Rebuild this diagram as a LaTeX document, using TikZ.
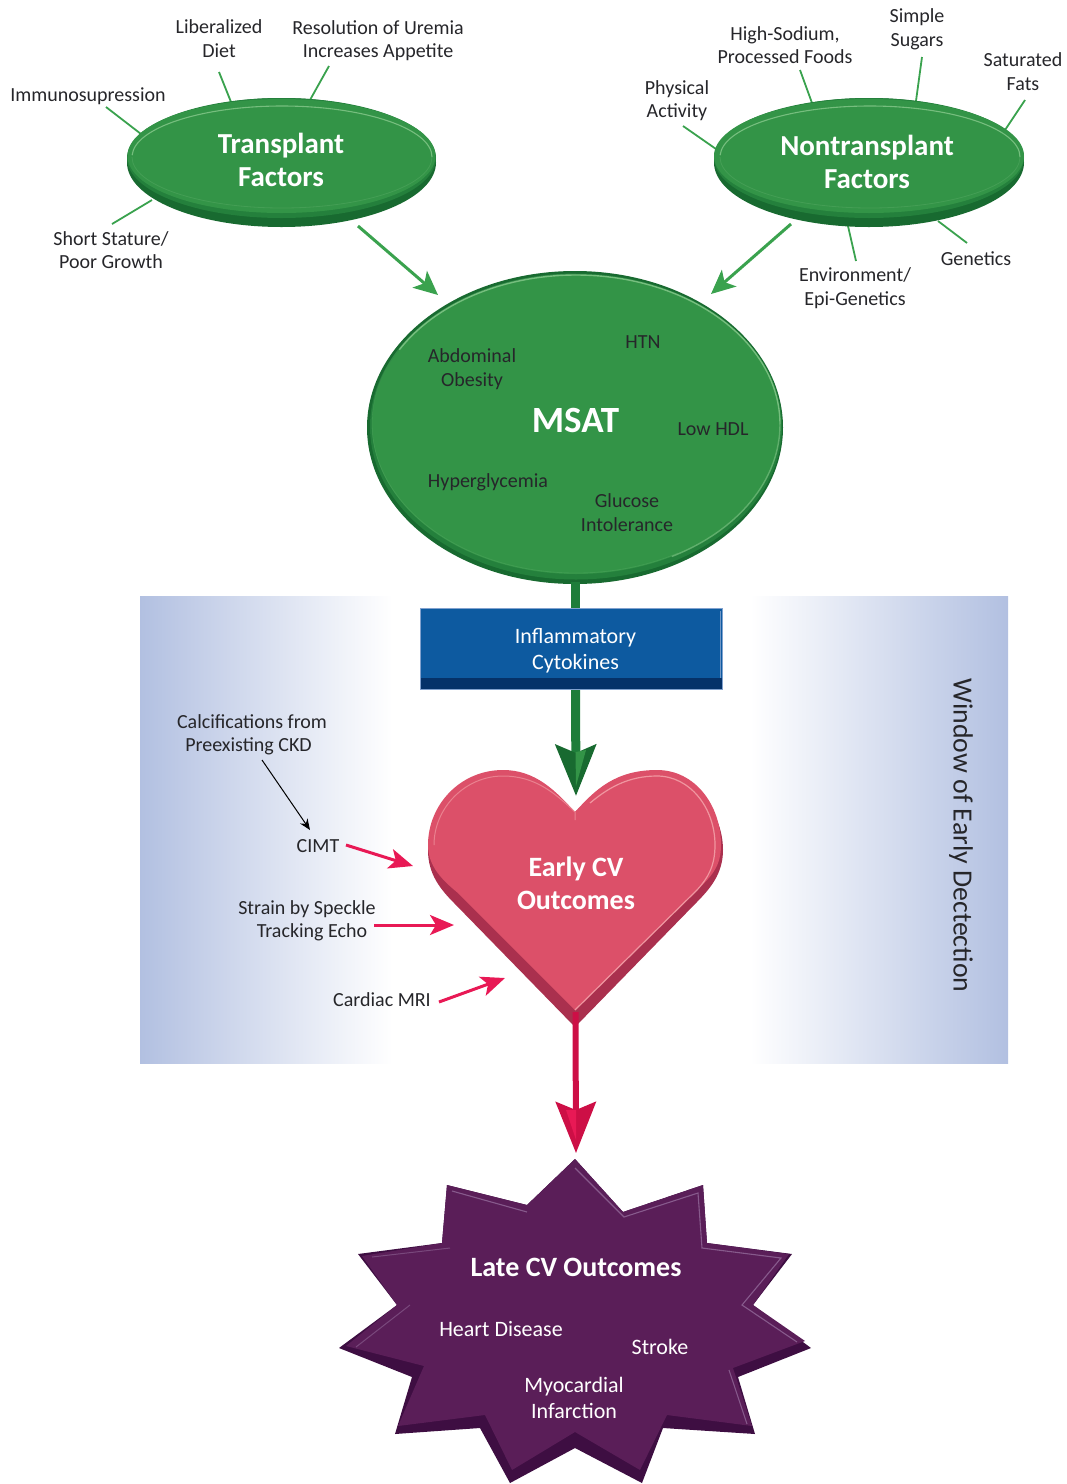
\documentclass[tikz,border=0pt]{standalone}
\usepackage{fontspec}
\setmainfont{Carlito}
\usetikzlibrary{shapes.geometric,arrows.meta}
\definecolor{leaf}{RGB}{51,148,71}
\definecolor{leafdark}{RGB}{24,106,48}
\definecolor{leafmid}{RGB}{36,128,60}
\definecolor{leaflight}{RGB}{118,190,126}
\definecolor{feedgreen}{RGB}{58,162,78}
\definecolor{stemgreen}{RGB}{30,125,58}
\definecolor{ink}{RGB}{38,38,42}
\definecolor{winblue}{RGB}{178,192,225}
\definecolor{boxblue}{RGB}{13,90,160}
\definecolor{boxdark}{RGB}{5,50,105}
\definecolor{heartface}{RGB}{220,80,105}
\definecolor{heartrim}{RGB}{170,48,78}
\definecolor{heartlight}{RGB}{240,150,160}
\definecolor{crimson}{RGB}{205,15,70}
\definecolor{arrowred}{RGB}{232,25,85}
\definecolor{starface}{RGB}{90,30,88}
\definecolor{starrim}{RGB}{62,14,66}
\definecolor{starlight}{RGB}{135,90,140}
\tikzset{
  lbl/.style={inner sep=0pt,align=center,text=ink,font=\fontsize{20}{23.5}\selectfont},
  whitelbl/.style={lbl,text=white,font=\fontsize{22}{26}\selectfont},
  head/.style={inner sep=0pt,align=center,text=white,font=\bfseries\fontsize{29}{33}\selectfont},
  headtight/.style={head,font=\bfseries\fontsize{28}{33}\selectfont},
  disc/.style={ellipse,inner sep=0pt,fill=leaf,minimum width=308pt,minimum height=114pt},
  spoke/.style={draw=feedgreen,line width=1.8pt},
  feed/.style={draw=feedgreen,line width=3pt,-{Stealth[length=24pt,width=22pt,inset=6pt]},fill=feedgreen},
  redin/.style={draw=arrowred,line width=3pt,-{Stealth[length=24pt,width=20pt,inset=6pt]},fill=arrowred},
  stem/.style={draw=stemgreen,line width=9pt},
  ringtop/.style={draw=leaflight,line width=1.1pt},
  ringlow/.style={draw=leaflight,line width=.8pt,opacity=.25},
}
\begin{document}
\begin{tikzpicture}[x=1pt,y=-1pt]
\useasboundingbox (0,0) rectangle (1067,1484);
% window
\fill[left color=winblue,right color=white] (140,596) rectangle (392,1063);
\fill[left color=white,right color=winblue] (750,596) rectangle (1008,1063);
% coordinates for connector ends
\coordinate (a1) at (219,72); \coordinate (a1b) at (231,102);
\coordinate (a2) at (329,66); \coordinate (a2b) at (310,100);
\coordinate (a3) at (106,107); \coordinate (a3b) at (141,134);
\coordinate (a4) at (112,224); \coordinate (a4b) at (152,200);
\coordinate (b1) at (800,70); \coordinate (b1b) at (812,103);
\coordinate (b2) at (922,57); \coordinate (b2b) at (916,101);
\coordinate (b3) at (1025,100); \coordinate (b3b) at (1005,130);
\coordinate (b4) at (683,126); \coordinate (b4b) at (716,149);
\coordinate (b5) at (967,243); \coordinate (b5b) at (938,221);
\coordinate (b6) at (856,261); \coordinate (b6b) at (848,226);
\draw[spoke] (a1)--(a1b); \draw[spoke] (a2)--(a2b); \draw[spoke] (a3)--(a3b); \draw[spoke] (a4)--(a4b);
\draw[spoke] (b1)--(b1b); \draw[spoke] (b2)--(b2b); \draw[spoke] (b3)--(b3b);
\draw[spoke] (b4)--(b4b); \draw[spoke] (b5)--(b5b); \draw[spoke] (b6)--(b6b);
% Transplant disc
\fill[leafdark] (281.5,162.5) ellipse [x radius=154.5pt,y radius=64.5pt];
\fill[leafmid] (281.5,158) ellipse [x radius=154.5pt,y radius=60pt];
\node[disc] (tf) at (281.5,156) {};
\draw[ringtop] (432,157) arc[start angle=0,end angle=178,x radius=150pt,y radius=51pt];
\draw[ringlow] (432,157) arc[start angle=0,end angle=-180,x radius=150pt,y radius=51pt];
\node[head] (tflabel) at (281,159.5) {Transplant\\Factors};
% Nontransplant disc
\fill[leafdark] (869,162.5) ellipse [x radius=155pt,y radius=64.5pt];
\fill[leafmid] (869,158) ellipse [x radius=155pt,y radius=60pt];
\node[disc,minimum width=310pt] (nf) at (869,156) {};
\draw[ringtop] (1020,157) arc[start angle=0,end angle=178,x radius=150pt,y radius=51pt];
\draw[ringlow] (1020,157) arc[start angle=0,end angle=-180,x radius=150pt,y radius=51pt];
\node[head] (nflabel) at (867,161.5) {Nontransplant\\Factors};
% MSAT
\node[ellipse,inner sep=0pt,fill=leafdark,minimum width=416pt,minimum height=313pt] (msatrim) at (575,427.5) {};
\node[ellipse,inner sep=0pt,fill=leafmid,minimum width=412pt,minimum height=306pt] (msatmid) at (576,426.5) {};
\node[ellipse,inner sep=0pt,fill=leaf,minimum width=408pt,minimum height=299pt] (msat) at (576,424.5) {};
\draw[leaflight,line width=1.4pt] (780,424.5) arc[start angle=0,end angle=150,x radius=204pt,y radius=149.5pt];
\draw[leaflight,line width=1.4pt,opacity=.7] (780,424.5) arc[start angle=0,end angle=-62,x radius=204pt,y radius=149.5pt];
\draw[leaflight,line width=.8pt,opacity=.2] (576,274) arc[start angle=90,end angle=300,x radius=204pt,y radius=149.5pt];
\node[inner sep=0pt,text=white,font=\bfseries\fontsize{37}{40}\selectfont] (msatlabel) at (575.5,420) {MSAT};
% stems and box
\node[inner sep=0pt,fill=boxblue,minimum width=302pt,minimum height=81pt,anchor=north west] (cyt) at (420,608) {};
\coordinate (tipg) at (576,796);
\coordinate (msatfoot) at (575.5,582);
\coordinate (cyttop) at (575.5,608);
\coordinate (cytfoot) at (575.5,689);
\draw[stem] (msatfoot) -- (cyttop);
\draw[draw=stemgreen,line width=9pt,-{Stealth[length=51pt,width=40pt,inset=8pt,color=leafdark]}] (cytfoot) -- (tipg);
\fill[leaf] (575.5,752) -- (586,750) -- (576,786) -- cycle;
\fill[boxdark] (420,678) rectangle (722,689);
\draw[winblue!70!boxblue,line width=1pt] (420,689) -- (420,608) -- (722,608) -- (722,689) -- cycle;
\draw[winblue!60!boxblue,line width=1pt] (720,611) -- (720,678);
\node[whitelbl] (cytlabel) at (575.5,651) {Inflammatory\\Cytokines};
% heart
\fill[heartrim] (575,812) .. controls (555,794) and (535,776) .. (503,776) .. controls (460,776) and (428,809) .. (428,850) .. controls (428,874) and (440,889) .. (455,904) -- (575,1027) -- (695,904) .. controls (710,889) and (723,874) .. (723,850) .. controls (723,809) and (690,776) .. (657,776) .. controls (615,776) and (595,794) .. (575,812) -- cycle;
\fill[heartface] (575,812) .. controls (555,790) and (535,770) .. (503,770) .. controls (460,770) and (428,805) .. (428,845) .. controls (428,866) and (442,880) .. (458,893) -- (575,1010) -- (697,890) .. controls (712,876) and (721,866) .. (721,845) .. controls (721,805) and (695,770) .. (657,770) .. controls (615,770) and (595,790) .. (575,812) -- cycle;
\draw[heartlight,line width=1.2pt] (575,1010) -- (697,890) .. controls (708,878) and (715,866) .. (715,845) .. controls (715,808) and (690,776) .. (657,776) .. controls (628,776) and (608,788) .. (590,803);
\draw[heartlight,line width=1pt,opacity=.7] (575,820) -- (575,812) .. controls (555,793) and (535,776) .. (503,776) .. controls (465,776) and (434,808) .. (434,845);
\node[headtight] (early) at (576,883.5) {Early CV\\Outcomes};
% star
\fill[starrim] (575,1159) -- (623,1212) -- (703,1185) -- (707,1243) -- (792,1254) -- (753,1305) -- (811,1348) -- (738,1377) -- (755,1434) -- (663,1428) -- (642,1483) -- (575,1448) -- (510,1483) -- (480,1428) -- (395,1434) -- (412,1377) -- (339,1348) -- (397,1305) -- (358,1254) -- (442,1243) -- (447,1185) -- (527,1205) -- cycle;
\fill[starface] (575,1159) -- (623,1212) -- (703,1185) -- (707,1243) -- (789,1254) -- (753,1305) -- (805,1341) -- (733,1368) -- (752,1426) -- (667,1415) -- (640,1470) -- (575,1432) -- (512,1470) -- (485,1415) -- (398,1426) -- (424,1366) -- (346,1346) -- (397,1305) -- (362,1256) -- (442,1243) -- (447,1185) -- (527,1205) -- cycle;
\draw[starlight,line width=1.1pt] (575,1168) -- (624,1217) -- (698,1193) -- (702,1248) -- (781,1258) -- (742,1305) -- (797,1342);
\draw[starlight,line width=1.1pt] (527,1212) -- (452,1191);
\draw[starlight!70!starface,line width=1pt] (372,1257) -- (450,1248);
\draw[starlight!70!starface,line width=1pt] (410,1305) -- (356,1347);
\draw[starlight,line width=1.1pt] (729,1370) -- (747,1424);
\node[headtight] (late) at (576,1267) {Late CV Outcomes};
\node[whitelbl] (hd) at (501,1329) {Heart Disease};
\node[whitelbl] (st) at (660,1347) {Stroke};
\node[whitelbl] (mi) at (574,1398) {Myocardial\\Infarction};
% crimson stem
\coordinate (tipr) at (576,1153);
\coordinate (hearttip) at (575.5,1012);
\draw[draw=crimson,line width=6pt,-{Stealth[length=51pt,width=40pt,inset=8pt]}] (hearttip) -- (tipr);
\fill[arrowred] (566,1110) -- (576,1110) -- (576,1140) -- cycle;
% feed arrows
\coordinate (f1) at (358,226); \coordinate (f1b) at (438,295);
\coordinate (f2) at (791,224); \coordinate (f2b) at (711,294);
\draw[feed] (f1) -- (f1b);
\draw[feed] (f2) -- (f2b);
% labels
\node[lbl] (l1) at (219,38.5) {Liberalized\\Diet};
\node[lbl] (l2) at (378,40.5) {Resolution of Uremia\\Increases Appetite};
\node[lbl] (l3) at (88,96) {Immunosupression};
\node[lbl] (l4) at (111,250) {Short Stature/\\Poor Growth};
\node[lbl] (l5) at (785,45) {High-Sodium,\\Processed Foods};
\node[lbl] (l6) at (917,29.5) {Simple\\Sugars};
\node[lbl] (l7) at (1023,71.5) {Saturated\\Fats};
\node[lbl] (l8) at (677,100.5) {Physical\\Activity};
\node[lbl] (l9) at (976,259) {Genetics};
\node[lbl] (l10) at (855,288) {Environment/\\Epi-Genetics};
\node[lbl] (m1) at (472,369) {Abdominal\\Obesity};
\node[lbl] (m2) at (643,342) {HTN};
\node[lbl] (m3) at (713,429) {Low HDL};
\node[lbl] (m4) at (488,482) {Hyperglycemia};
\node[lbl] (m5) at (627,512.5) {Glucose\\Intolerance};
\node[lbl] (c1) at (252,735) {Calcifications from\\\hspace*{-7pt}Preexisting CKD};
\node[lbl] (c2) at (318,846) {CIMT};
\node[lbl] (c3) at (307,921) {Strain by Speckle\\\hspace*{10pt}Tracking Echo};
\node[lbl] (c4) at (382,1000) {Cardiac MRI};
\node[lbl,rotate=-90,font=\fontsize{27.8}{30}\selectfont] (win) at (961,835.5) {Window of Early Dectection};
% incoming arrows
\coordinate (k1) at (262,760); \coordinate (k1b) at (310,830);
\draw[black,line width=1pt,-{Stealth[length=11pt,width=9pt]}] (k1) -- (k1b);
\coordinate (r1) at (346,845); \coordinate (r1b) at (413,866);
\coordinate (r2) at (374,925); \coordinate (r2b) at (454,925);
\coordinate (r3) at (439,1002); \coordinate (r3b) at (505,978);
\draw[redin] (r1) -- (r1b);
\draw[redin] (r2) -- (r2b);
\draw[redin] (r3) -- (r3b);
\end{tikzpicture}
\end{document}
